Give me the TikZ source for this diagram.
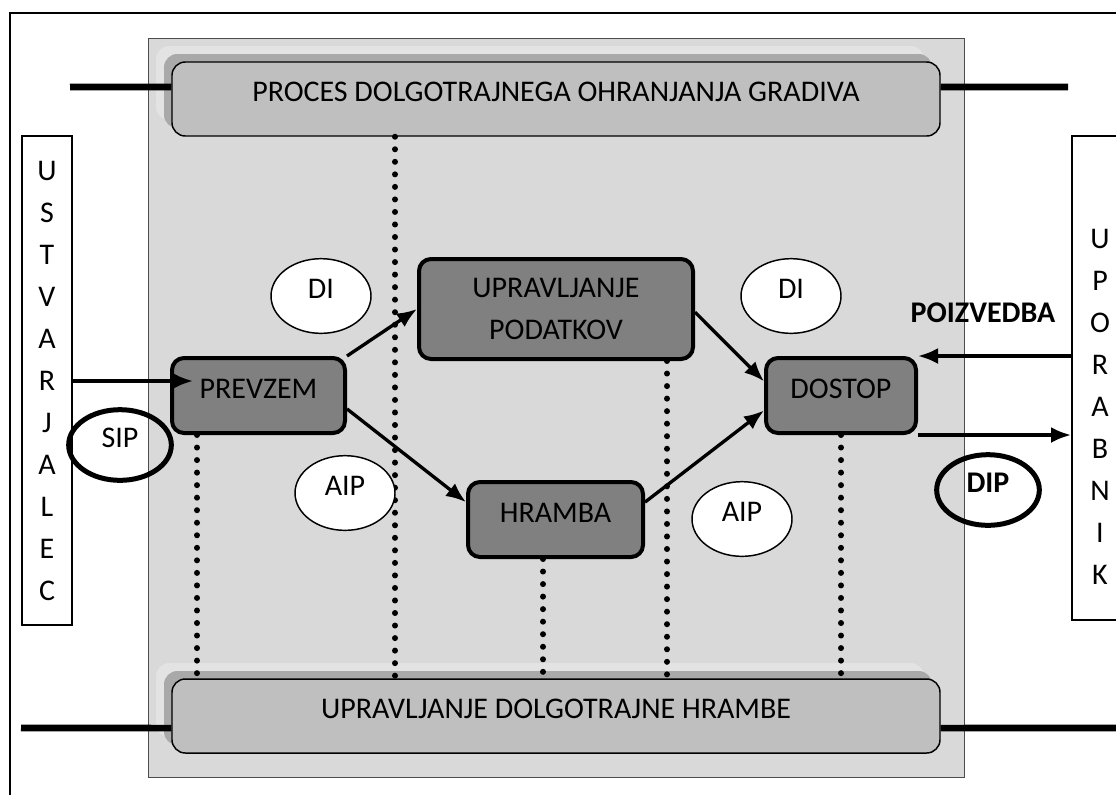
\documentclass[tikz,border=0pt]{standalone}
\usepackage{fontspec}
\setmainfont{Carlito}
\usetikzlibrary{positioning,calc,fit,shapes.geometric,shadows,arrows.meta}

\definecolor{ploskev}{HTML}{D9D9D9}
\definecolor{procbarva}{HTML}{BFBFBF}
\definecolor{senca}{HTML}{A9A9A9}
\definecolor{halo}{HTML}{E3E3E3}
\definecolor{korakbarva}{HTML}{808080}

\tikzset{
	proc/.style={draw, line width=1.1pt, fill=procbarva, rounded corners=10pt,
		minimum width=576pt, minimum height=55.5pt, inner sep=0pt,
		general shadow={shadow xshift=-12pt, shadow yshift=12pt, fill=halo},
		general shadow={shadow xshift=-6pt, shadow yshift=6pt, fill=senca}},
	korak/.style={draw, line width=3pt, fill=korakbarva, rounded corners=9pt, inner sep=0pt},
	eno/.style={text height=14.5pt, text depth=10.5pt},
	oval/.style={ellipse, draw, line width=1.1pt, fill=white, minimum width=75pt, minimum height=56pt, inner sep=0pt},
	debel/.style={ellipse, draw, line width=3.75pt, minimum width=77pt, minimum height=53pt, inner sep=0pt},
	stran/.style={draw, line width=1.5pt, fill=white, inner sep=0pt, align=center},
	arr/.style={line width=2.5pt, -{Latex[length=15pt,width=12pt]}},
	pike/.style={line width=4.5pt, line cap=round, dash pattern=on 0pt off 9.4pt},
	crta/.style={line width=5pt}
}

\begin{document}
\begin{tikzpicture}[x=0.75pt, y=-0.75pt, font=\fontsize{22.5}{31.5}\selectfont]
		\useasboundingbox (0,0) rectangle (1116,794);
		\draw[line width=1.5pt] (10,810) -- (10,13) -- (1130,13);
		\draw[gray!60!black, line width=0.75pt, fill=ploskev] (148,38) rectangle (964,777);

		\node[proc, eno] (proces) at (556,99) {PROCES DOLGOTRAJNEGA OHRANJANJA GRADIVA};
		\node[proc, eno] (hrambe) at (556,716) {UPRAVLJANJE DOLGOTRAJNE HRAMBE};

		\node[stran, minimum width=37.5pt, minimum height=366.75pt] (ustvarjalec) at (47,380.5) {U\\S\\T\\V\\A\\R\\J\\A\\L\\E\\C};
		\node[stran, minimum width=42pt, minimum height=363pt] (uporabnik) at (1100,378) {};
		\node[align=center, inner sep=0pt] (uporabnikt) at (1100,407) {U\\P\\O\\R\\A\\B\\N\\I\\K};

		\node[korak, eno, minimum width=129.75pt, minimum height=56.25pt] (prevzem) at (258.5,395.5) {PREVZEM};
		\node[korak, align=center, minimum width=205.5pt, minimum height=75pt] (upravljanje) at (556,309) {UPRAVLJANJE\\PODATKOV};
		\node[korak, eno, minimum width=131.25pt, minimum height=56.25pt] (hramba) at (555.5,519.5) {HRAMBA};
		\node[korak, eno, minimum width=112.5pt, minimum height=56.25pt] (dostop) at (841,395.5) {DOSTOP};

		\coordinate (d1) at (197,0);
		\coordinate (d2) at (395,0);
		\coordinate (d3) at (543,0);
		\coordinate (d4) at (667,0);
		\coordinate (d5) at (841,0);
		\draw[pike] (proces.south -| d2) -- (d2 |- hrambe.north);
		\draw[pike] (prevzem.south -| d1) -- (d1 |- hrambe.north);
		\draw[pike] (hramba.south -| d3) -- (d3 |- hrambe.north);
		\draw[pike] (upravljanje.south -| d4) -- (d4 |- hrambe.north);
		\draw[pike] (dostop.south -| d5) -- (d5 |- hrambe.north);

		\node[oval, eno] (di1) at (321,296) {DI};
		\node[oval, eno] (di2) at (791,296) {DI};
		\node[oval, eno] (aip1) at (345,493) {AIP};
		\node[oval, eno] (aip2) at (742,519) {AIP};
		\node[debel, eno] (sip) at (120,445) {SIP};
		\node[debel, eno, font=\fontsize{22.5}{31.5}\selectfont\bfseries] (dip) at (988,490) {DIP};
		\node[font=\fontsize{22.5}{31.5}\selectfont\bfseries, eno] (poizvedba) at (983,320) {POIZVEDBA};

		\coordinate (l1) at (70,0);
		\coordinate (l2) at (1068,0);
		\coordinate (l3) at (21,0);
		\coordinate (l4) at (1116,0);
		\draw[crta] (l1 |- 0,87) -- ($(proces.north west)!0.34!(proces.south west)$);
		\draw[crta] ($(proces.north east)!0.34!(proces.south east)$) -- (l2 |- 0,87);
		\draw[crta] (l3 |- 0,728) -- ($(hrambe.north west)!0.66!(hrambe.south west)$);
		\draw[crta] ($(hrambe.north east)!0.66!(hrambe.south east)$) -- (l4 |- 0,728);

		\coordinate (vhod) at (193,381);
		\draw[arr] (vhod -| ustvarjalec.east) -- (vhod);
		\draw[arr] (prevzem.north east) -- (upravljanje.west);
		\draw[arr] ($(prevzem.north east)!0.67!(prevzem.south east)$) -- ($(hramba.north west)!0.28!(hramba.south west)$);
		\draw[arr] ($(upravljanje.north east)!0.53!(upravljanje.south east)$) -- ($(dostop.north west)!0.32!(dostop.south west)$);
		\draw[arr] ($(hramba.north east)!0.28!(hramba.south east)$) -- ($(dostop.north west)!0.69!(dostop.south west)$);
		\draw[arr] (dostop.north east -| uporabnik.west) -- (dostop.north east);
		\draw[arr] (dostop.south east) -- (dostop.south east -| uporabnik.west);
	\end{tikzpicture}
\end{document}
